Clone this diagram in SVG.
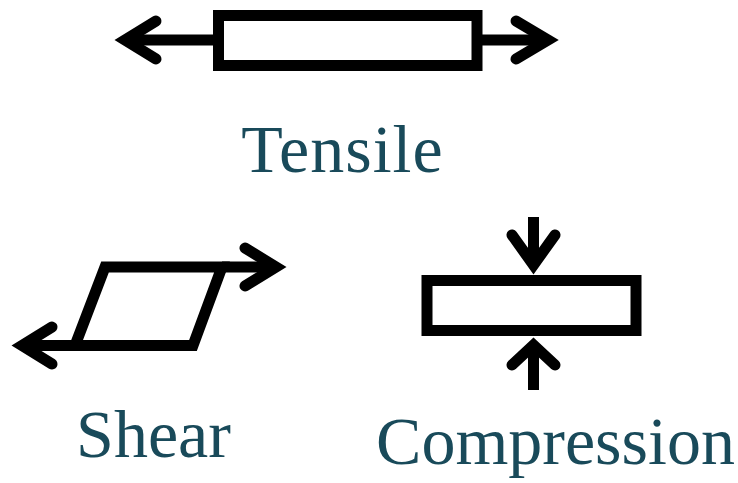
<svg xmlns="http://www.w3.org/2000/svg" width="738" height="483" viewBox="0 0 738 483">
  <style>
    .body { fill: #ffffff; stroke: #000000; stroke-width: 11; stroke-linejoin: miter; }
    .shaft { fill: none; stroke: #000000; stroke-width: 11; stroke-linecap: butt; }
    .head { fill: none; stroke: #000000; stroke-width: 11; stroke-linecap: round; stroke-linejoin: miter; stroke-miterlimit: 10; }
    .label { font-family: "Liberation Serif", "Times New Roman", serif; font-size: 68px; fill: #194a5a; text-anchor: middle; }
  </style>

  <!-- Tensile: bar pulled at both ends -->
  <g id="tensile">
    <line class="shaft" x1="128" y1="40" x2="219" y2="40"/>
    <line class="shaft" x1="477" y1="40" x2="545" y2="40"/>
    <rect class="body" x="218.5" y="15.5" width="258.5" height="50"/>
    <polyline class="head" points="156,21 125,40 156,59"/>
    <polyline class="head" points="516,21 548,40 516,59"/>
    <text class="label" x="342.5" y="172" letter-spacing="1">Tensile</text>
  </g>

  <!-- Shear: parallelogram with opposing forces along top and bottom -->
  <g id="shear">
    <polygon class="body" points="105,267 222,267 193,345.5 75,345.5"/>
    <line class="shaft" x1="222" y1="267" x2="272" y2="267"/>
    <line class="shaft" x1="75" y1="345.5" x2="26" y2="345.5"/>
    <polyline class="head" points="245,248 276,267 245,286"/>
    <polyline class="head" points="52,327 22,345.5 52,364"/>
    <text class="label" x="153.5" y="457">Shear</text>
  </g>

  <!-- Compression: bar pressed from above and below -->
  <g id="compression">
    <rect class="body" x="427" y="280.5" width="209" height="50"/>
    <line class="shaft" x1="533.5" y1="217" x2="533.5" y2="262"/>
    <line class="shaft" x1="533.5" y1="348" x2="533.5" y2="390"/>
    <polyline class="head" points="512,235 533.5,265 555,235"/>
    <polyline class="head" points="512,365 533.5,345 555,365"/>
    <text class="label" x="555.5" y="464">Compression</text>
  </g>
</svg>
